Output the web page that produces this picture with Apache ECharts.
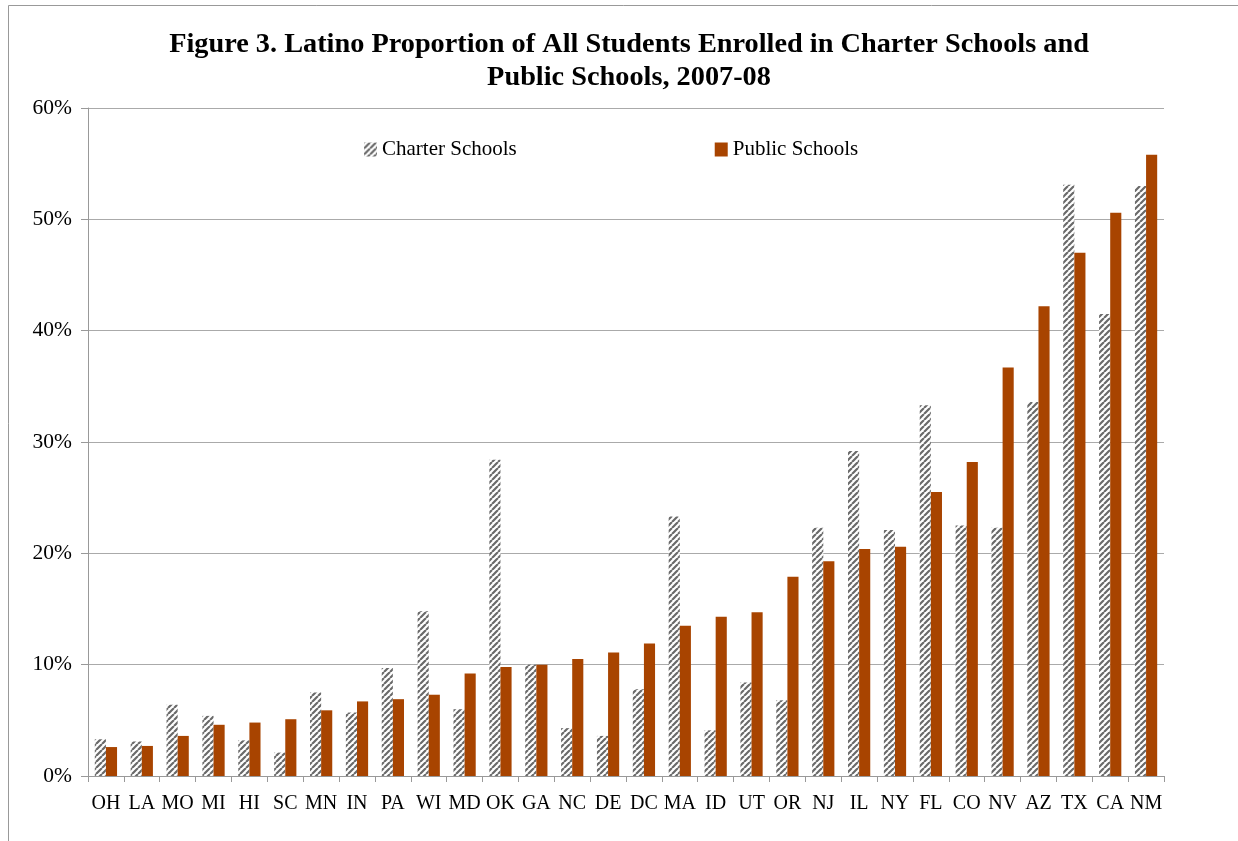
<!DOCTYPE html>
<html><head><meta charset="utf-8">
<script src="https://cdn.jsdelivr.net/npm/echarts@6/dist/echarts.min.js"></script>
<style>html,body{margin:0;padding:0;background:#fff}#c{width:1238px;height:841px}</style>
</head><body><div id="c"></div>
<script>
const states = ['OH','LA','MO','MI','HI','SC','MN','IN','PA','WI','MD','OK','GA','NC','DE','DC','MA','ID','UT','OR','NJ','IL','NY','FL','CO','NV','AZ','TX','CA','NM'];
const charter = [3.3,3.1,6.4,5.4,3.2,2.1,7.5,5.7,9.7,14.8,6.0,28.4,10.0,4.3,3.6,7.8,23.3,4.1,8.4,6.8,22.3,29.2,22.1,33.3,22.5,22.3,33.6,53.1,41.5,53.0];
const publicS = [2.6,2.7,3.6,4.6,4.8,5.1,5.9,6.7,6.9,7.3,9.2,9.8,10.0,10.5,11.1,11.9,13.5,14.3,14.7,17.9,19.3,20.4,20.6,25.5,28.2,36.7,42.2,47.0,50.6,55.8];
const yTicks = [0,10,20,30,40,50,60];

function stripe(){
  const c = document.createElement('canvas');
  c.width = 6; c.height = 6;
  const g = c.getContext('2d');
  g.fillStyle = '#ffffff'; g.fillRect(0,0,6,6);
  g.strokeStyle = '#6a6a6a'; g.lineWidth = 2.2;
  g.beginPath();
  for (let k=-12;k<=12;k+=6){ g.moveTo(k,6); g.lineTo(k+6,0); }
  g.stroke();
  return c;
}
const pat = {image: stripe(), repeat: 'repeat'};
const font = 'Liberation Serif';
const chart = echarts.init(document.getElementById('c'));
chart.setOption({
  animation:false,
  backgroundColor:'#fff',
  title:{text:'Figure 3. Latino Proportion of All Students Enrolled in Charter Schools and\nPublic Schools, 2007-08',
    left:624, top:23, textAlign:'center',
    textStyle:{fontFamily:font,fontWeight:'bold',fontSize:28.3,color:'#000',lineHeight:33}},
  graphic:[{type:'rect',shape:{x:8.5,y:5.5,width:1300,height:900},style:{fill:'none',stroke:'#999',lineWidth:1}}],
  legend:{top:134,left:359,itemGap:198,itemWidth:13,itemHeight:14,
    textStyle:{fontFamily:font,fontSize:21,color:'#000'},
    data:[{name:'Charter Schools',icon:'rect'},{name:'Public Schools',icon:'rect'}]},
  grid:{left:88,right:74,top:108,bottom:65,containLabel:false},
  xAxis:{type:'category',data:states,
    axisLine:{lineStyle:{color:'#999'}},
    axisTick:{show:true,length:6,lineStyle:{color:'#999'}},
    axisLabel:{fontFamily:font,fontSize:20,color:'#000',margin:18,interval:0}},
  yAxis:{type:'value',min:0,max:60,interval:10,
    axisLine:{show:true,lineStyle:{color:'#999'}},
    axisTick:{show:true,length:7,inside:false,lineStyle:{color:'#999'}},
    splitLine:{lineStyle:{color:'#aaa'}},
    axisLabel:{fontFamily:font,fontSize:21.5,color:'#000',margin:16,formatter:v=>v+'%'}},
  series:[
    {name:'Charter Schools',type:'bar',data:charter,barGap:'0%',barCategoryGap:'38%',itemStyle:{color:pat}},
    {name:'Public Schools',type:'bar',data:publicS,itemStyle:{color:'#a84400'}}
  ]
});
</script></body></html>
